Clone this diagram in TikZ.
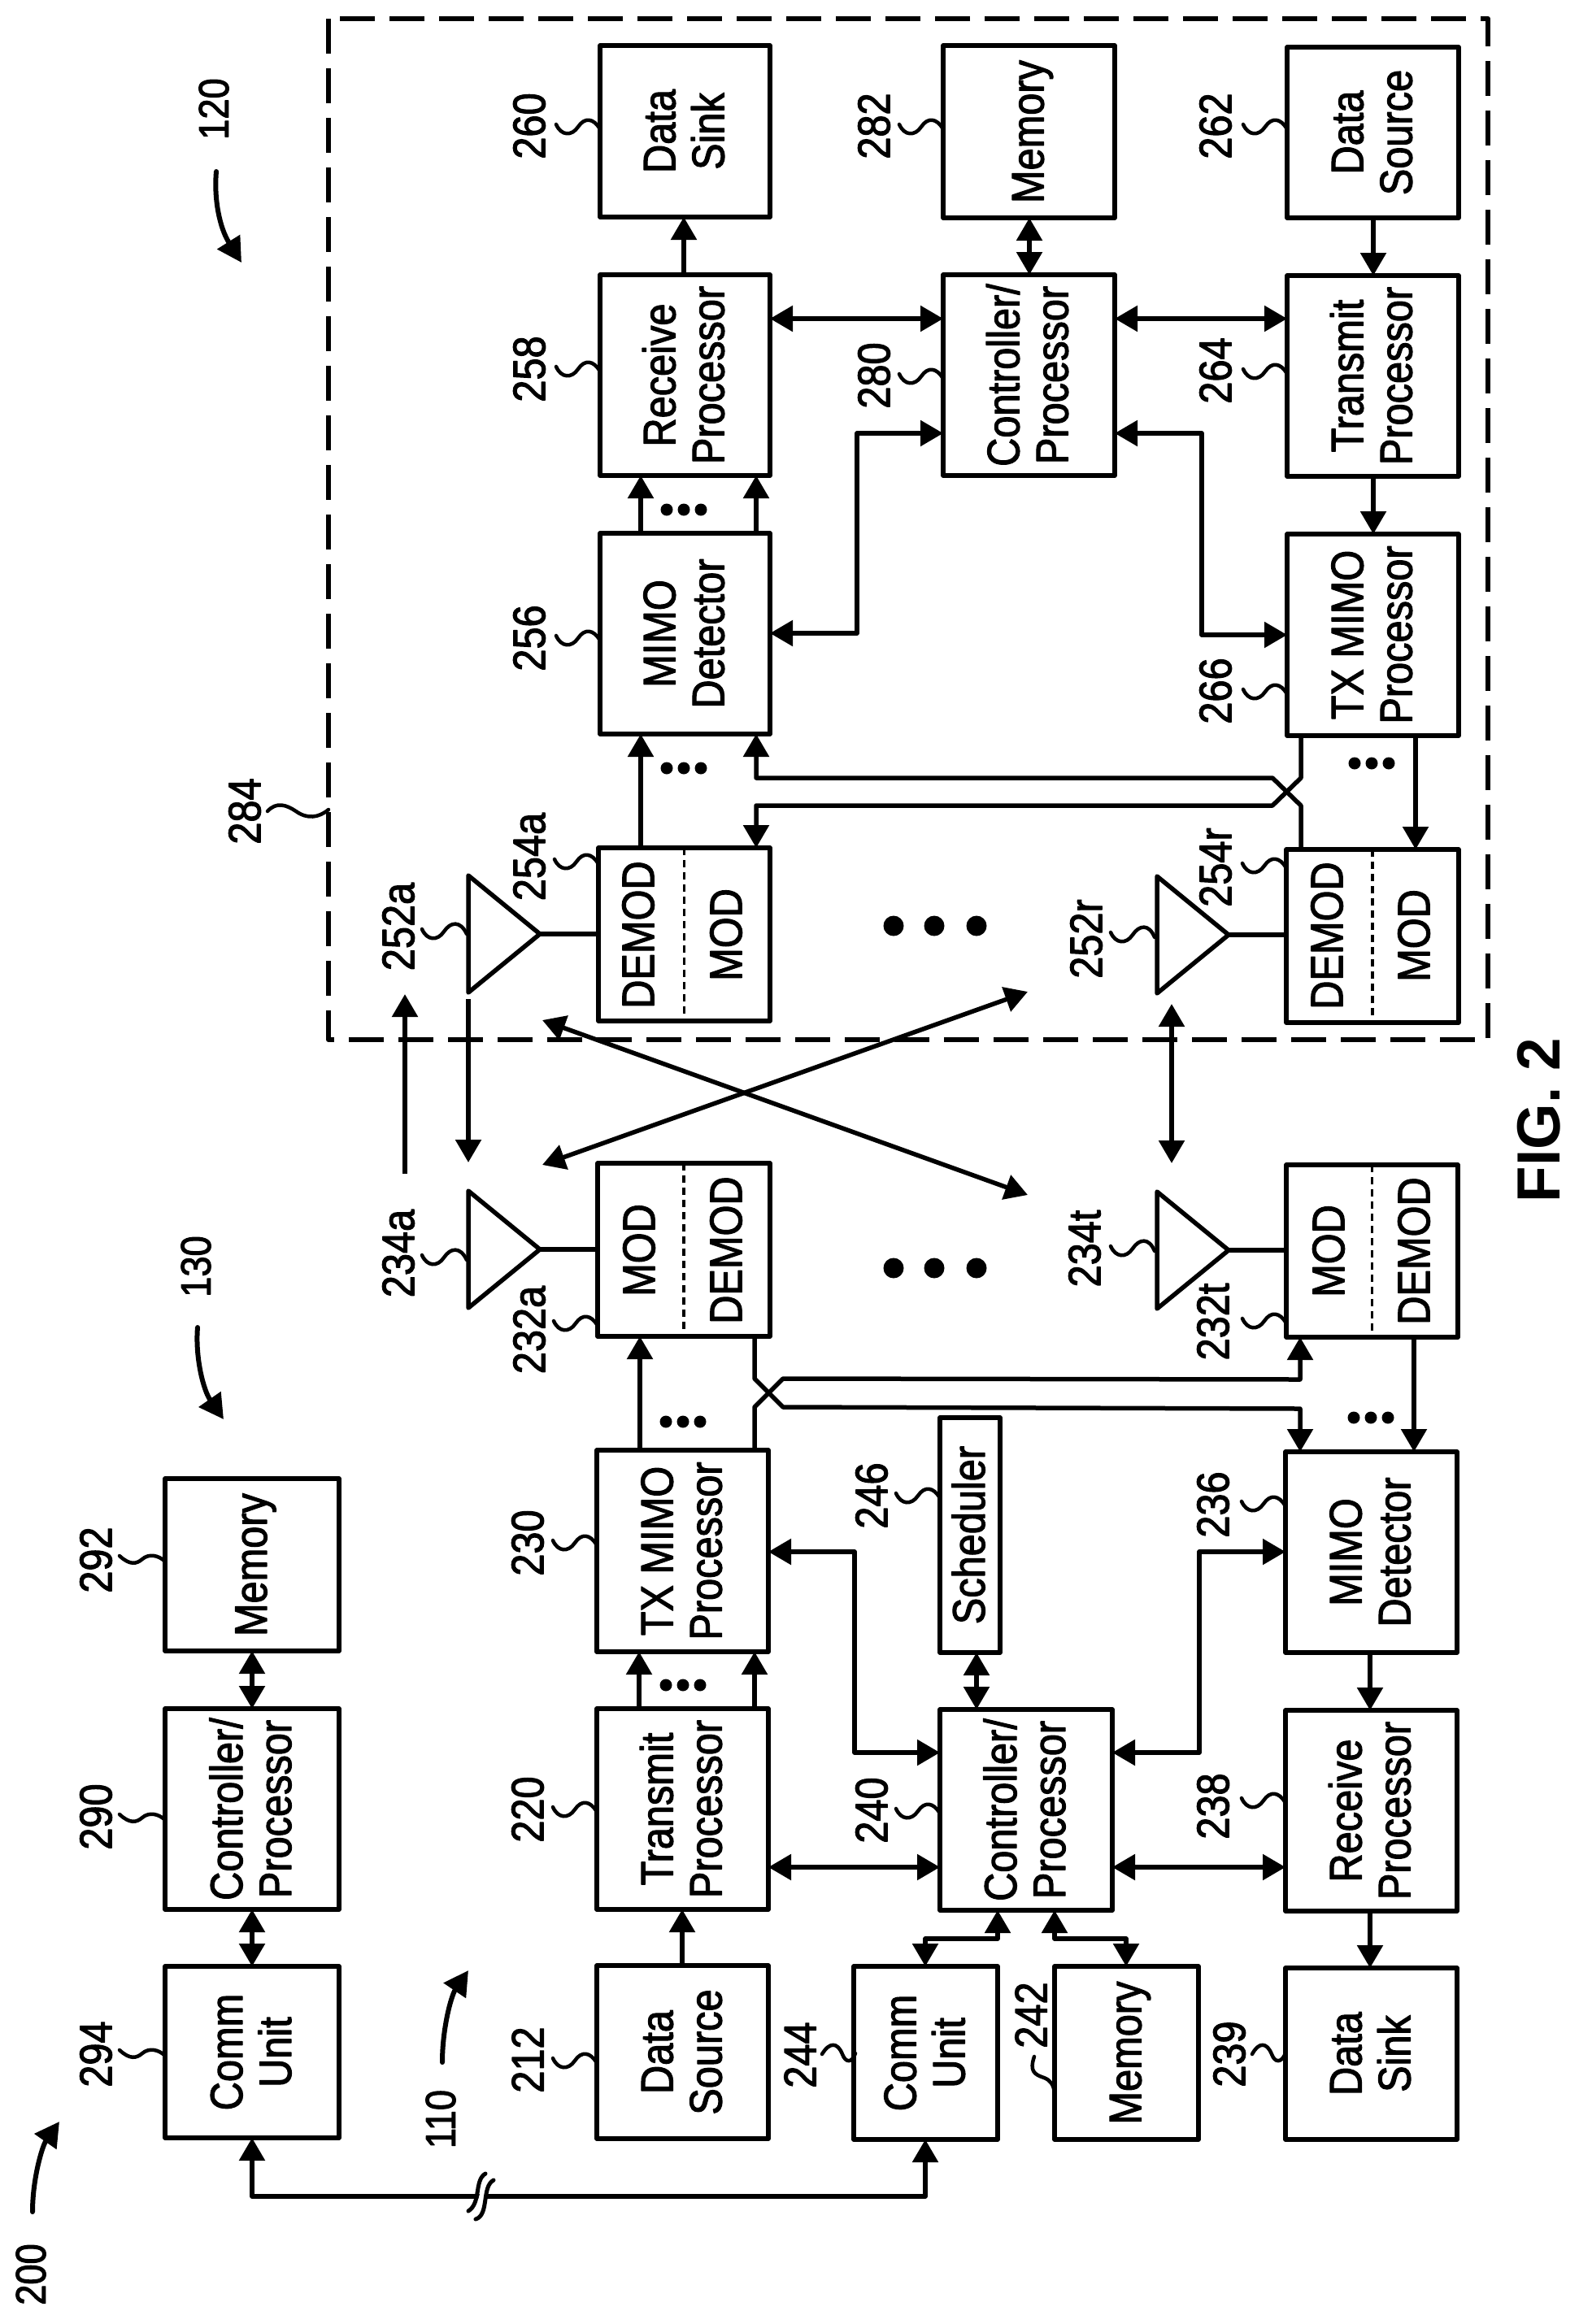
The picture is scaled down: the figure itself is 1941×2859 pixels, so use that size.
\documentclass[tikz,border=0pt]{standalone}
\usepackage{fontspec}
\usepackage{graphicx}
\setmainfont{Liberation Sans}[FakeStretch=0.87,FakeBold=2]
\newfontfamily\figfont{Liberation Sans}[FakeStretch=0.97,BoldFont={Liberation Sans Bold}]
\usetikzlibrary{arrows.meta,calc}
\newcommand{\fsz}{\fontsize{56}{60}\selectfont}
\newcommand{\rtxt}[1]{\hspace*{12pt}\rotatebox{90}{\begin{tabular}{@{}c@{}}#1\end{tabular}}}
% box: name, x1, y1, x2, y2, text
\newcommand{\bx}[6]{\node[box,minimum width={(#4-#2)*1pt},minimum height={(#5-#3)*1pt}] (#1) at ({(#2+#4)/2},{(#3+#5)/2}) {\rtxt{#6}};}
% empty box
\newcommand{\bxe}[5]{\node[box,minimum width={(#4-#2)*1pt},minimum height={(#5-#3)*1pt}] (#1) at ({(#2+#4)/2},{(#3+#5)/2}) {};}
% reference label: name, x, y, text
\newcommand{\lbl}[4]{\node[reflabel] (#1) at (#2,#3) {#4};}
% leader squiggle: box, y
\newcommand{\lead}[2]{\draw[leader] (#1.west |- 0,#2) ++(-54,-3) .. controls +(6,14) and +(-8,12) .. ++(27,3) .. controls +(8,-12) and +(-8,-14) .. ++(27,3);}
% three small dots
\newcommand{\sdots}[2]{\fill (#1-21,#2) circle[radius=7.5] (#1,#2) circle[radius=7.5] (#1+21,#2) circle[radius=7.5];}
\newcommand{\bdots}[1]{\fill (1099,#1) circle[radius=12.5] (1149,#1) circle[radius=12.5] (1201,#1) circle[radius=12.5];}
% antenna: name, x of base, y of apex, modem box
\newcommand{\antenna}[4]{%
  \coordinate (#1) at (#2+88,#3);
  \draw[antline] (#2,#3-72) -- (#1) -- (#2,#3+72) -- cycle;
  \draw[antline] (#1) -- (#4.west |- #1);}
\begin{document}
\begin{tikzpicture}[x=1pt,y=-1pt,line join=round,
  every node/.style={font=\fsz},
  box/.style={draw,line width=5.5pt,inner sep=0pt,outer sep=0pt,fill=white},
  reflabel/.style={rotate=90,inner sep=0pt},
  modtext/.style={rotate=90,inner sep=0pt},
  conn/.style={line width=5.5pt},
  single/.style={conn,-{Triangle[length=28pt,width=31pt]}},
  dbl/.style={conn,{Triangle[length=28pt,width=31pt]}-{Triangle[length=28pt,width=31pt]}},
  leader/.style={line width=4.5pt,line cap=round},
  antline/.style={line width=5.5pt},
  divider/.style={line width=3.5pt,dash pattern=on 9pt off 6pt},
  curved/.style={line width=6pt,line cap=round,-{Triangle[length=30pt,width=32pt]}}]
\useasboundingbox (0,0) rectangle (1941,2859);
\fill[white] (0,0) rectangle (1941,2859);

% dashed enclosure 284
\draw[line width=6pt,dash pattern=on 43pt off 18pt] (404,23) rectangle (1830,1279);

% --- UE side boxes (120)
\bx{dsk}{738}{56}{947}{267}{Data\\Sink}
\bx{mem}{1160}{56}{1371}{268}{Memory}
\bx{dsr}{1583}{58}{1794}{268}{Data\\Source}
\bx{rxp}{738}{338}{947}{585}{Receive\\Processor}
\bx{ctl}{1160}{338}{1371}{585}{Controller/\\Processor}
\bx{txp}{1583}{339}{1794}{586}{Transmit\\Processor}
\bx{mdt}{738}{656}{947}{903}{MIMO\\Detector}
\bx{tmm}{1583}{657}{1794}{905}{TX MIMO\\Processor}
\bxe{dmA}{736}{1043}{947}{1256}
\bxe{dmR}{1582}{1045}{1794}{1258}
\draw[divider] (dmA.north) -- (dmA.south);
\draw[divider] (dmR.north) -- (dmR.south);
\node[modtext] (dmAd) at (785,1150) {DEMOD};
\node[modtext] (dmAm) at (893,1150) {MOD};
\node[modtext] (dmRd) at (1632,1151) {DEMOD};
\node[modtext] (dmRm) at (1739,1151) {MOD};

% --- base station boxes (110)
\bxe{mdA}{735}{1431}{947}{1644}
\bxe{mdT}{1582}{1433}{1793}{1645}
\draw[divider] (mdA.north) -- (mdA.south);
\draw[divider] (mdT.north) -- (mdT.south);
\node[modtext] (mdAm) at (786,1538) {MOD};
\node[modtext] (mdAd) at (893,1538) {DEMOD};
\node[modtext] (mdTm) at (1634,1539) {MOD};
\node[modtext] (mdTd) at (1739,1539) {DEMOD};
\bx{tmb}{734}{1784}{945}{2032}{TX MIMO\\Processor}
\bx{sch}{1156}{1744}{1230}{2033}{Scheduler}
\bx{mdb}{1581}{1786}{1792}{2033}{MIMO\\Detector}
\bx{txb}{734}{2102}{945}{2349}{Transmit\\Processor}
\bx{ctb}{1156}{2103}{1368}{2350}{Controller/\\Processor}
\bx{rxb}{1581}{2104}{1792}{2351}{Receive\\Processor}
\bx{dsb}{734}{2418}{945}{2631}{Data\\Source}
\bx{cmb}{1050}{2419}{1227}{2632}{Comm\\Unit}
\bx{mmb}{1297}{2419}{1474}{2632}{Memory}
\bx{skb}{1581}{2421}{1792}{2632}{Data\\Sink}

% --- network controller (130)
\bx{mmc}{203}{1819}{417}{2031}{Memory}
\bx{ctc}{203}{2102}{417}{2349}{Controller/\\Processor}
\bx{cmc}{203}{2419}{417}{2630}{Comm\\Unit}

% --- UE connectors
\draw[single] (841,0 |- rxp.north) -- (841,0 |- dsk.south);
\draw[dbl] (1266,0 |- ctl.north) -- (1266,0 |- mem.south);
\draw[single] (1689,0 |- dsr.south) -- (1689,0 |- txp.north);
\draw[dbl] (rxp.east |- 0,392) -- (ctl.west |- 0,392);
\draw[dbl] (ctl.east |- 0,392) -- (txp.west |- 0,392);
\draw[single] (788,0 |- mdt.north) -- (788,0 |- rxp.south);
\draw[single] (930,0 |- mdt.north) -- (930,0 |- rxp.south);
\draw[single] (1689,0 |- txp.south) -- (1689,0 |- tmm.north);
\draw[dbl] (ctl.west |- 0,533) -- (1054,533) -- (1054,779) -- (mdt.east |- 0,779);
\draw[dbl] (ctl.east |- 0,533) -- (1478,533) -- (1478,781) -- (tmm.west |- 0,781);
\draw[single] (788,0 |- dmA.north) -- (788,0 |- mdt.south);
\draw[single] (1600,0 |- dmR.north) -- (1600,991) -- (1565,957) -- (930,957) -- (930,0 |- mdt.south);
\draw[single] (1600,0 |- tmm.south) -- (1600,957) -- (1565,991) -- (930,991) -- (930,0 |- dmA.north);
\draw[single] (1741,0 |- tmm.south) -- (1741,0 |- dmR.north);
\sdots{841}{627}
\sdots{841}{945}
\sdots{1687}{939}

% --- antennas
\antenna{anA}{576}{1149}{dmA}
\antenna{anR}{1423}{1150}{dmR}
\antenna{bnA}{576}{1537}{mdA}
\antenna{bnT}{1423}{1538}{mdT}

% --- wireless links
\coordinate (lkUp) at (498,1444);
\coordinate (lkUpE) at (498,1223);
\coordinate (lkDn) at (576,1229);
\coordinate (lkDnE) at (576,1430);
\coordinate (lkA) at (667,1433);
\coordinate (lkB) at (1264,1220);
\coordinate (lkC) at (667,1255);
\coordinate (lkD) at (1264,1470);
\coordinate (lkE) at (1441,1235);
\coordinate (lkF) at (1441,1431);
\draw[single] (lkUp) -- (lkUpE);
\draw[single] (lkDn) -- (lkDnE);
\draw[dbl] (lkA) -- (lkB);
\draw[dbl] (lkC) -- (lkD);
\draw[dbl] (lkE) -- (lkF);
\bdots{1139}
\bdots{1560}

% --- base connectors
\draw[single] (787,0 |- tmb.north) -- (787,0 |- mdA.south);
\draw[single] (928,0 |- mdA.south) -- (928,1696) -- (963,1731) -- (1599,1733) -- (1599,0 |- mdb.north);
\draw[single] (928,0 |- tmb.north) -- (928,1731) -- (963,1696) -- (1599,1697) -- (1599,0 |- mdT.south);
\draw[single] (1739,0 |- mdT.south) -- (1739,0 |- mdb.north);
\draw[single] (786,0 |- txb.north) -- (786,0 |- tmb.south);
\draw[single] (928,0 |- txb.north) -- (928,0 |- tmb.south);
\draw[single] (839,0 |- dsb.north) -- (839,0 |- txb.south);
\draw[dbl] (tmb.east |- 0,1909) -- (1051,1909) -- (1051,2156) -- (ctb.west |- 0,2156);
\draw[dbl] (mdb.west |- 0,1909) -- (1475,1909) -- (1475,2156) -- (ctb.east |- 0,2156);
\draw[dbl] (1201,0 |- sch.south) -- (1201,0 |- ctb.north);
\draw[dbl] (txb.east |- 0,2297) -- (ctb.west |- 0,2297);
\draw[dbl] (ctb.east |- 0,2297) -- (rxb.west |- 0,2297);
\draw[single] (1685,0 |- mdb.south) -- (1685,0 |- rxb.north);
\draw[single] (1685,0 |- rxb.south) -- (1685,0 |- skb.north);
\draw[dbl] (1227,0 |- ctb.south) -- (1227,2385) -- (1138,2385) -- (1138,0 |- cmb.north);
\draw[dbl] (1297,0 |- ctb.south) -- (1297,2385) -- (1385,2385) -- (1385,0 |- mmb.north);
\sdots{840}{2073}
\sdots{840}{1749}
\sdots{1686}{1744}

% --- controller connectors
\draw[dbl] (310,0 |- mmc.south) -- (310,0 |- ctc.north);
\draw[dbl] (310,0 |- ctc.south) -- (310,0 |- cmc.north);
\draw[dbl] (310,0 |- cmc.south) -- (310,2702) -- (1138,2702) -- (1138,0 |- cmb.south);

% break mark
\draw[white,line width=9pt] (581,2725) .. controls (596,2712) and (594,2690) .. (602,2678);
\draw[line width=5pt,line cap=round] (576,2720) .. controls (592,2710) and (583,2682) .. (597,2674);
\draw[line width=5pt,line cap=round] (585,2730) .. controls (602,2725) and (592,2690) .. (607,2682);

% --- reference labels UE
\lbl{t260}{651}{155}{260}\lead{dsk}{156}
\lbl{t258}{651}{454}{258}\lead{rxp}{454}
\lbl{t256}{651}{785}{256}\lead{mdt}{785}
\lbl{t282}{1075}{155}{282}\lead{mem}{156}
\lbl{t280}{1075}{462}{280}\lead{ctl}{463}
\lbl{t262}{1495}{155}{262}\lead{dsr}{156}
\lbl{t264}{1495}{456}{264}\lead{txp}{457}
\lbl{t266}{1495}{850}{266}\lead{tmm}{851}
\lbl{t254a}{651}{1054}{254a}\lead{dmA}{1060}
\lbl{t254r}{1495}{1067}{254r}\lead{dmR}{1065}
\lbl{t252a}{490}{1140}{252a}
\draw[leader] (519,1143) .. controls (525,1157) and (538,1158) .. (546,1146) .. controls (554,1134) and (566,1132) .. (574,1149);
\lbl{t252r}{1336}{1155}{252r}
\draw[leader] (1366,1147) .. controls (1372,1161) and (1385,1162) .. (1393,1150) .. controls (1401,1138) and (1413,1136) .. (1420,1153);
\lbl{t284}{301}{998}{284}
\draw[leader] (329,998) .. controls (340,986) and (352,990) .. (364,998) .. controls (378,1008) and (392,1006) .. (404,996);

% --- reference labels base station
\lbl{t234a}{490}{1542}{234a}
\draw[leader] (519,1544) .. controls (525,1558) and (538,1559) .. (546,1547) .. controls (554,1535) and (566,1533) .. (574,1550);
\lbl{t234t}{1334}{1536}{234t}
\draw[leader] (1366,1533) .. controls (1372,1547) and (1385,1548) .. (1393,1536) .. controls (1401,1524) and (1413,1522) .. (1420,1539);
\lbl{t232a}{651}{1636}{232a}\lead{mdA}{1628}
\lbl{t232t}{1492}{1626}{232t}\lead{mdT}{1625}
\lbl{t230}{649}{1898}{230}\lead{tmb}{1898}
\lbl{t246}{1072}{1840}{246}\lead{sch}{1840}
\lbl{t236}{1492}{1851}{236}\lead{mdb}{1850}
\lbl{t220}{649}{2226}{220}\lead{txb}{2226}
\lbl{t240}{1072}{2227}{240}\lead{ctb}{2228}
\lbl{t238}{1492}{2222}{238}\lead{rxb}{2215}
\lbl{t212}{649}{2534}{212}\lead{dsb}{2535}
\lbl{t244}{984}{2528}{244}
\draw[leader] (1011,2527) .. controls (1020,2512) and (1030,2512) .. (1036,2527) .. controls (1040,2538) and (1048,2538) .. (1052,2526);
\lbl{t242}{1268}{2479}{242}
\draw[leader] (1272,2530) .. controls (1266,2548) and (1272,2552) .. (1284,2556) .. controls (1292,2559) and (1296,2565) .. (1297,2575);
\lbl{t239}{1512}{2527}{239}
\draw[leader] (1540,2527) .. controls (1548,2512) and (1558,2512) .. (1564,2527) .. controls (1568,2538) and (1576,2538) .. (1581,2526);

% --- controller labels
\lbl{t292}{118}{1919}{292}
\draw[leader] (147,1914) .. controls (160,1926) and (168,1924) .. (175,1918) .. controls (183,1911) and (195,1913) .. (203,1921);
\lbl{t290}{118}{2235}{290}
\draw[leader] (147,2232) .. controls (160,2244) and (168,2242) .. (175,2236) .. controls (183,2229) and (195,2231) .. (203,2239);
\lbl{t294}{118}{2527}{294}
\draw[leader] (147,2522) .. controls (160,2534) and (168,2532) .. (175,2526) .. controls (183,2519) and (195,2521) .. (203,2529);

% --- system labels
\node[reflabel,font=\fontsize{52}{56}\selectfont] (t120) at (263,134) {120};
\draw[curved] (266,211) .. controls (263,245) and (270,280) .. (297,323);
\node[reflabel,font=\fontsize{52}{56}\selectfont] (t130) at (241,1558) {130};
\draw[curved] (243,1633) .. controls (240,1670) and (250,1710) .. (275,1746);
\node[reflabel,font=\fontsize{52}{56}\selectfont] (t110) at (542,2607) {110};
\draw[curved] (544,2537) .. controls (544,2495) and (555,2455) .. (576,2424);
\node[reflabel,font=\fontsize{52}{56}\selectfont] (t200) at (38,2798) {200};
\draw[curved] (40,2721) .. controls (40,2680) and (52,2640) .. (73,2610);

\node[reflabel,font=\figfont\bfseries\fontsize{75}{80}\selectfont] (fig) at (1893,1378) {FIG. 2};
\end{tikzpicture}
\end{document}
